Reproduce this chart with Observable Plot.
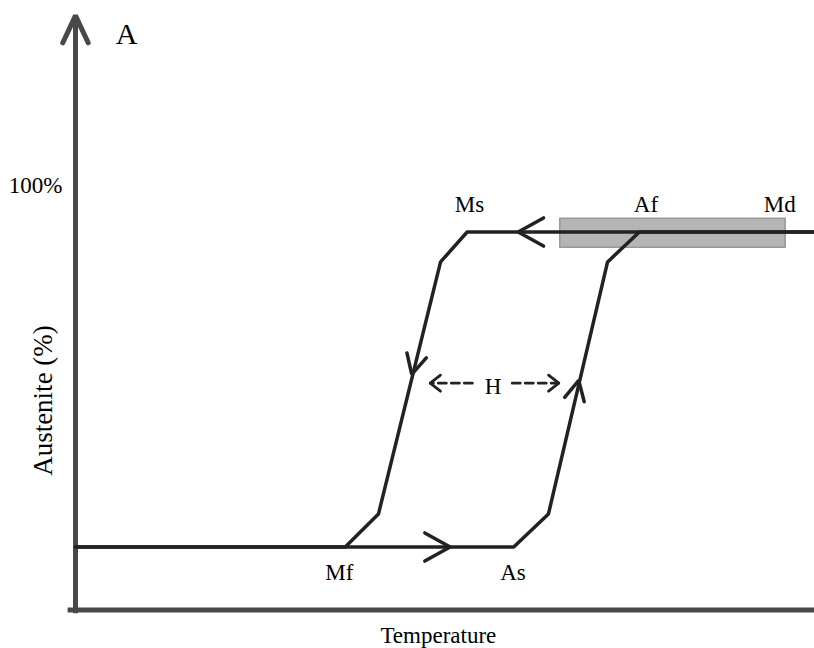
<!DOCTYPE html>
<html>
<head>
<meta charset="utf-8">
<script src="https://cdn.jsdelivr.net/npm/d3@7"></script>
<script src="https://cdn.jsdelivr.net/npm/@observablehq/plot@0.6"></script>
<style>
  html, body { margin: 0; padding: 0; background: #fff; }
  svg { display: block; }
</style>
</head>
<body>
<script>
// ---- Data ----
// Cooling path: from high temperature along 100% austenite, down through Ms -> Mf
const coolingTemp = [100, 53.0, 49.4, 41.0, 36.5, 0];
const coolingAust = [100, 100, 90.5, 10.5, 0, 0];
// Heating path: from low temperature along 0%, up through As -> Af
const heatingTemp = [0, 59.3, 64.0, 72.0, 76.3, 100];
const heatingAust = [0, 0, 10.5, 90.5, 100, 100];
// Shaded band (Af .. Md region)
const bandTemp = [65.6, 96.1];
const bandAust = [95.0, 104.2];
// Point labels
const labelText = ["Ms", "Af", "Md", "Mf", "As", "H"];
const labelTemp = [53.3, 77.2, 95.3, 35.7, 59.2, 56.5];
const labelAust = [106.2, 106.2, 106.2, -10.6, -10.6, 48.6];
// Hysteresis width (H) dashed arrows: tail -> tip
const hTailTemp = [53.7, 59.1];
const hTipTemp = [48.0, 65.4];
const hAust = [52.0, 52.0];
// Arrowheads: tip position and a point behind it (direction)
const arrowKind = ["flow", "flow", "curve", "curve", "axis", "gap", "gap"];
const arrowTipTemp = [59.9, 50.7, 45.5, 68.1, 0, 48.0, 65.4];
const arrowTipAust = [100, 0, 54.8, 52.9, 168.7, 52.0, 52.0];
const arrowFromTemp = [100, 0, 49.4, 64.0, 0, 53.7, 59.1];
const arrowFromAust = [100, 0, 90.5, 10.5, -20, 52.0, 52.0];
// Axis extents
const tempDomain = [0, 100];
const austDomain = [-20, 170];

// ---- Layout / style ----
const W = 814, H = 648;
const mL = 75, mR = 0, mT = 11, mB = 38.5;
const kx = (W - mL - mR) / (tempDomain[1] - tempDomain[0]);
const ky = (H - mT - mB) / (austDomain[1] - austDomain[0]);
const font = "'Liberation Serif', 'Times New Roman', serif";
const headStyle = {
  flow: {len: 29, half: 29, sw: 3.5, color: "#222"},
  curve: {len: 22, half: 27, sw: 3.5, color: "#222"},
  axis: {len: 30, half: 25, sw: 5, color: "#484848"},
  gap: {len: 13, half: 38, sw: 2.8, color: "#222"}
};

// Build tables
const cooling = coolingTemp.map((t, i) => ({t, a: coolingAust[i]}));
const heating = heatingTemp.map((t, i) => ({t, a: heatingAust[i]}));
const band = [{t1: bandTemp[0], t2: bandTemp[1], a1: bandAust[0], a2: bandAust[1]}];
const labels = labelText.map((s, i) => ({s, t: labelTemp[i], a: labelAust[i]}));
const hLines = hTailTemp.flatMap((t, i) => [
  {id: i, t, a: hAust[i]},
  {id: i, t: hTipTemp[i], a: hAust[i]}
]);
const heads = [];
arrowKind.forEach((k, i) => {
  const st = headStyle[k];
  const tx = arrowTipTemp[i], ty = arrowTipAust[i];
  let dx = (tx - arrowFromTemp[i]) * kx, dy = -(ty - arrowFromAust[i]) * ky;
  const n = Math.hypot(dx, dy); dx /= n; dy /= n;
  const a = st.half * Math.PI / 180;
  const wing = s => {
    const rx = dx * Math.cos(s * a) - dy * Math.sin(s * a);
    const ry = dx * Math.sin(s * a) + dy * Math.cos(s * a);
    return {t: tx - st.len * rx / kx, a: ty + st.len * ry / ky};
  };
  const w1 = wing(1), w2 = wing(-1);
  [w1, {t: tx, a: ty}, w2].forEach(p => heads.push({id: i, kind: k, ...p}));
});

const plot = Plot.plot({
  width: W, height: H,
  marginLeft: mL, marginRight: mR, marginTop: mT, marginBottom: mB,
  x: {domain: tempDomain, axis: null},
  y: {domain: austDomain, axis: null},
  style: {background: "#fff", fontFamily: font},
  marks: [
    // axes
    Plot.ruleY([austDomain[0]], {x1: -1, x2: 100, stroke: "#484848", strokeWidth: 5}),
    Plot.ruleX([0], {y1: austDomain[0] - 1.2, y2: 168.7, stroke: "#484848", strokeWidth: 5}),
    // band (under the loop lines)
    Plot.rect(band, {x1: "t1", x2: "t2", y1: "a1", y2: "a2", fill: "#b5b5b5", stroke: "#999", strokeWidth: 1.5}),
    // hysteresis loop
    Plot.line(heating, {x: "t", y: "a", stroke: "#222", strokeWidth: 3.5, strokeLinejoin: "round", curve: "linear"}),
    Plot.line(cooling, {x: "t", y: "a", stroke: "#222", strokeWidth: 3.5, strokeLinejoin: "round", curve: "linear"}),
    // H dashed lines
    Plot.line(hLines, {x: "t", y: "a", z: "id", stroke: "#222", strokeWidth: 2.8, strokeDasharray: "8,5"}),
    // arrowheads
    ...Object.keys(headStyle).map(k =>
      Plot.line(heads.filter(d => d.kind === k), {
        x: "t", y: "a", z: "id", stroke: headStyle[k].color, strokeWidth: headStyle[k].sw,
        strokeLinejoin: "miter", strokeLinecap: "round"
      })
    ),
    // labels
    Plot.text(labels, {x: "t", y: "a", text: "s", fontSize: 23, lineAnchor: "bottom", textAnchor: "middle", fill: "#000", fontFamily: font}),
    Plot.text(["A"], {x: 6.9, y: 159.8, text: d => d, fontSize: 30, lineAnchor: "bottom", textAnchor: "middle", fill: "#000", fontFamily: font}),
    Plot.text(["100%"], {x: -5.4, y: 112.5, text: d => d, fontSize: 23, lineAnchor: "bottom", textAnchor: "middle", fill: "#000", fontFamily: font}),
    Plot.text(["Temperature"], {x: 49.1, y: -30.6, text: d => d, fontSize: 23, lineAnchor: "bottom", textAnchor: "middle", fill: "#000", fontFamily: font}),
    Plot.text(["Austenite (%)"], {x: -4.3, y: 46.5, text: d => d, fontSize: 27, rotate: -90, lineAnchor: "middle", textAnchor: "middle", fill: "#000", fontFamily: font})
  ]
});
document.body.appendChild(plot);
</script>
</body>
</html>
